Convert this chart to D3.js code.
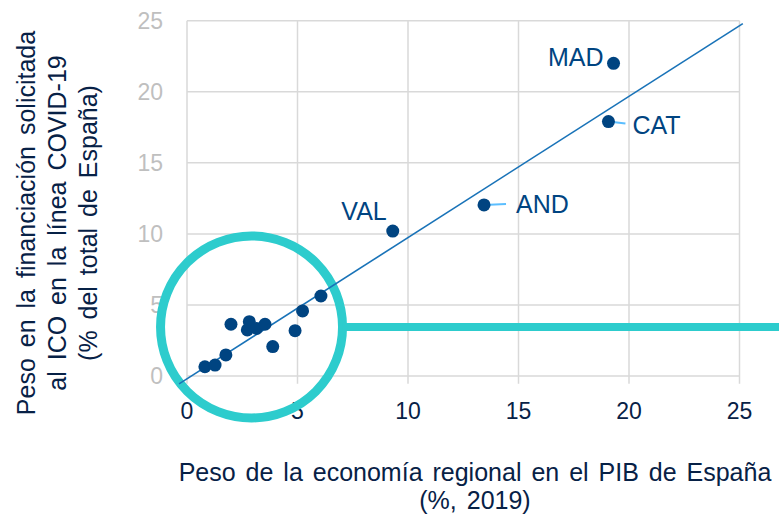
<!DOCTYPE html>
<html>
<head>
<meta charset="utf-8">
<script src="https://cdn.jsdelivr.net/npm/d3@7"></script>
<style>
  body { margin: 0; background: #fff; }
  text { font-family: "Liberation Sans", Arial, sans-serif; }
</style>
</head>
<body>
<svg id="chart"></svg>
<script>
// Peso en el PIB (x) vs peso en la financiación ICO (y), % del total de España
var regions = ["MAD", "CAT", "AND", "VAL", "", "", "", "", "", "", "", "", "", "", "", ""];
var pibShare = [19.3, 19.07, 13.44, 9.31, 0.81, 1.27, 1.76, 1.99, 2.73, 2.82, 3.15, 3.53, 3.88, 4.89, 5.23, 6.06];
var icoShare = [22.0, 17.9, 12.04, 10.2, 0.65, 0.77, 1.48, 3.64, 3.24, 3.82, 3.35, 3.64, 2.07, 3.19, 4.58, 5.63];
var ticks = [0, 5, 10, 15, 20, 25];
// trend line
var trendX = [-0.36, 25.15];
var trendSlope = 0.994, trendIntercept = -0.2;

var W = 779, H = 517;
var svg = d3.select("#chart").attr("width", W).attr("height", H);

var x = d3.scaleLinear().domain([0, 25]).range([187, 739.5]);
var y = d3.scaleLinear().domain([0, 25]).range([376, 20.7]);

var navy = "#072146", dot = "#004481", grid = "#d9d9d9", aqua = "#2dcccd";

// grid
svg.selectAll(".vgrid").data(ticks).enter().append("line")
  .attr("x1", d => x(d)).attr("x2", d => x(d))
  .attr("y1", y(25)).attr("y2", y(-0.55))
  .style("stroke", grid).style("stroke-width", 1.5);
svg.selectAll(".hgrid").data(ticks).enter().append("line")
  .attr("x1", x(0)).attr("x2", x(25))
  .attr("y1", d => y(d)).attr("y2", d => y(d))
  .style("stroke", grid).style("stroke-width", 1.5);

// tick labels
svg.selectAll(".ylab").data(ticks).enter().append("text")
  .attr("x", 163).attr("y", d => y(d) + 8)
  .attr("text-anchor", "end")
  .style("font-size", "23px").style("fill", "#bfbfbf")
  .text(d => d);
svg.selectAll(".xlab").data(ticks).enter().append("text")
  .attr("x", d => x(d)).attr("y", 419)
  .attr("text-anchor", "middle")
  .style("font-size", "23px").style("fill", navy)
  .text(d => d);

// highlight circle + bar
var cx = x(2.92), cy = y(3.45), r = 91;
svg.append("circle").attr("cx", cx).attr("cy", cy).attr("r", r)
  .style("fill", "none").style("stroke", aqua).style("stroke-width", 9);
svg.append("line").attr("x1", cx + r).attr("x2", W).attr("y1", cy).attr("y2", cy)
  .style("stroke", aqua).style("stroke-width", 8);

// trend line
svg.append("path")
  .attr("d", d3.line()(trendX.map(v => [x(v), y(trendSlope * v + trendIntercept)])))
  .style("fill", "none").style("stroke", "#1973b8").style("stroke-width", 1.6);

// leader lines
var leaders = { CAT: [17, 2], AND: [22, -1] };
regions.forEach(function(name, i) {
  if (leaders[name]) {
    svg.append("line")
      .attr("x1", x(pibShare[i])).attr("y1", y(icoShare[i]))
      .attr("x2", x(pibShare[i]) + leaders[name][0]).attr("y2", y(icoShare[i]) + leaders[name][1])
      .style("stroke", "#5bbeff").style("stroke-width", 2);
  }
});

// points
svg.selectAll(".pt").data(pibShare).enter().append("circle")
  .attr("cx", d => x(d)).attr("cy", (d, i) => y(icoShare[i]))
  .attr("r", 6.5).style("fill", dot);

// point labels
var place = {
  MAD: { dx: -10, dy: 3, anchor: "end" },
  CAT: { dx: 24, dy: 12, anchor: "start" },
  AND: { dx: 32, dy: 8, anchor: "start" },
  VAL: { dx: -6, dy: -11, anchor: "end" }
};
regions.forEach(function(name, i) {
  if (!name) return;
  var p = place[name];
  svg.append("text")
    .attr("x", x(pibShare[i]) + p.dx).attr("y", y(icoShare[i]) + p.dy)
    .attr("text-anchor", p.anchor)
    .style("font-size", "25px").style("fill", dot)
    .text(name);
});

// axis titles
var xt = svg.append("text").attr("text-anchor", "middle")
  .style("font-size", "25px").style("fill", navy).style("word-spacing", "3px");
xt.append("tspan").attr("x", 475).attr("y", 481).text("Peso de la economía regional en el PIB de España");
xt.append("tspan").attr("x", 475).attr("y", 509).text("(%, 2019)");

var ytLines = ["Peso en la financiación solicitada", "al ICO en la línea COVID-19", "(% del total de España)"];
svg.selectAll(".ytitle").data(ytLines).enter().append("text")
  .attr("transform", (d, i) => "translate(" + (35 + i * 31) + ",223) rotate(-90)")
  .attr("text-anchor", "middle")
  .style("font-size", "25px").style("fill", navy).style("word-spacing", "4px")
  .text(d => d);
</script>
</body>
</html>
